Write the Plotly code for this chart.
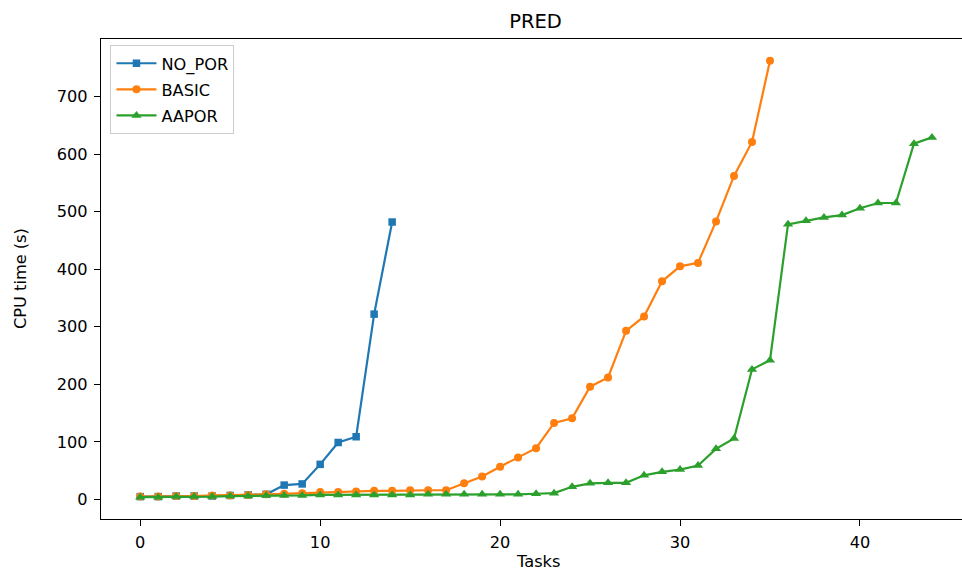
import plotly.graph_objects as go

tasks_no_por = list(range(15))
no_por = [5, 5, 6, 6, 6, 7, 8, 9, 25, 27, 61, 99, 109, 322, 482]

tasks_basic = list(range(36))
basic = [5, 5, 6, 6, 7, 7, 8, 9, 10, 11, 13, 13, 14, 15, 15, 16, 16, 16,
         28, 40, 57, 73, 89, 133, 141, 196, 212, 293, 318, 379, 405, 411,
         483, 562, 621, 762]

tasks_aapor = list(range(45))
aapor = [4, 4, 5, 5, 5, 6, 6, 7, 7, 7, 8, 8, 8, 8, 8, 8, 9, 9, 9, 9,
         9, 9, 10, 11, 22, 28, 29, 29, 42, 48, 52, 59, 88, 106, 226, 242,
         478, 484, 490, 494, 506, 515, 515, 618, 629]

x_ticks = [0, 10, 20, 30, 40]
y_ticks = [0, 100, 200, 300, 400, 500, 600, 700]

FONT = "DejaVu Sans"
FS = 16.2
fig = go.Figure()
series = [
    ("NO_POR", tasks_no_por, no_por, "#1f77b4", "square", 7.5),
    ("BASIC", tasks_basic, basic, "#ff7f0e", "circle", 8),
    ("AAPOR", tasks_aapor, aapor, "#2ca02c", "triangle-up", 9),
]
for name, xs, ys, col, sym, ms in series:
    fig.add_trace(go.Scatter(
        x=xs, y=ys, name=name, mode="lines+markers", legendgroup=name,
        line=dict(color=col, width=2.2),
        marker=dict(symbol=sym, size=ms, color=col, line=dict(width=0)),
    ))

W, H = 962, 571
L, R, T, B = 101, 0, 38.5, 52
fig.update_layout(
    width=W, height=H,
    margin=dict(l=L, r=R, t=T, b=B, pad=0),
    paper_bgcolor="white", plot_bgcolor="white",
    font=dict(family=FONT, size=FS, color="black"),
    showlegend=True,
    legend=dict(x=0.011, y=0.987, xanchor="left", yanchor="top",
                bordercolor="#cccccc", borderwidth=1, bgcolor="white",
                font=dict(family=FONT, size=FS), traceorder="grouped",
                tracegroupgap=2, itemwidth=40),
    title=dict(text="PRED", x=0.5046, xref="paper", xanchor="center",
               y=1 - 21 / H, yref="container", yanchor="middle",
               font=dict(family=FONT, size=19.5)),
)
fig.update_xaxes(
    range=[-2.18, 45.67], tickvals=x_ticks, showgrid=False, zeroline=False,
    showline=True, linecolor="black", linewidth=1.2, mirror=True,
    ticks="outside", ticklen=6, tickwidth=1.1, tickcolor="black",
    ticklabelstandoff=2,
)
fig.update_yaxes(
    range=[-33.9, 799.9], tickvals=y_ticks, showgrid=False, zeroline=False,
    showline=True, linecolor="black", linewidth=1.2,
    ticks="outside", ticklen=6, tickwidth=1.1, tickcolor="black",
    ticklabelstandoff=3,
)
pw = W - L - R
ph = H - T - B
fig.add_annotation(text="Tasks", xref="paper", yref="paper",
                   x=(538 - L) / pw, y=-(562 - (H - B)) / ph,
                   showarrow=False, xanchor="center", yanchor="middle",
                   font=dict(family=FONT, size=FS))
fig.add_annotation(text="CPU time (s)", xref="paper", yref="paper",
                   x=(20 - L) / pw, y=0.5, textangle=-90,
                   showarrow=False, xanchor="center", yanchor="middle",
                   font=dict(family=FONT, size=FS))
fig.write_html(
    "out.html",
    config={"displayModeBar": False},
    post_script="document.body.style.margin='0';document.body.style.overflow='hidden';",
)
